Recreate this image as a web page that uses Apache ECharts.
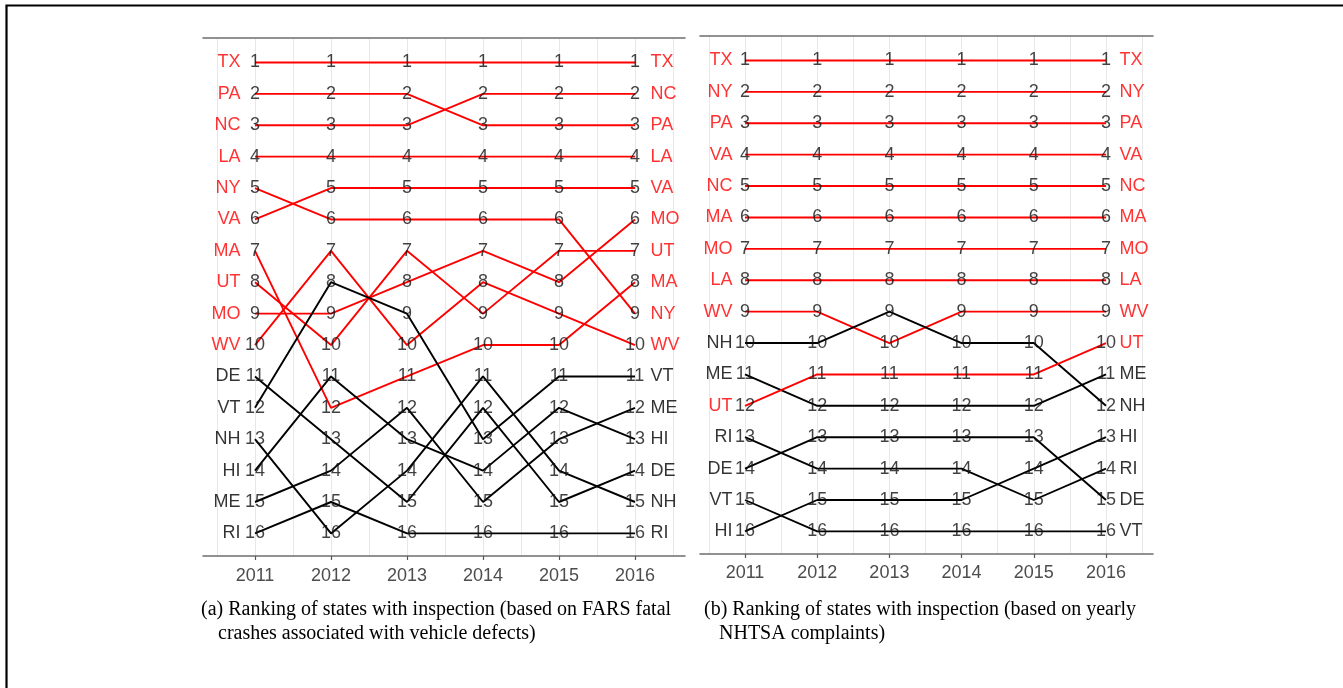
<!DOCTYPE html>
<html>
<head>
<meta charset="utf-8">
<script src="https://cdn.jsdelivr.net/npm/echarts@6/dist/echarts.min.js"></script>
<style>
  html, body { margin: 0; padding: 0; background: #ffffff; }
  #chart { width: 1343px; height: 688px; }
</style>
</head>
<body>
<div id="chart"></div>
<script>
// Years on the horizontal axis, and the positions of the vertical guide lines
const years = [2011, 2012, 2013, 2014, 2015, 2016];
const guideYears = [2010.5, 2011, 2011.5, 2012, 2012.5, 2013, 2013.5, 2014, 2014.5, 2015, 2015.5, 2016, 2016.5];

// States drawn in red
const highlighted = ['TX', 'PA', 'NC', 'LA', 'NY', 'VA', 'MA', 'UT', 'MO', 'WV'];

// (a) ranks by FARS fatal crashes associated with vehicle defects, 2011-2016
const statesA = ['TX', 'PA', 'NC', 'LA', 'NY', 'VA', 'MA', 'UT', 'MO', 'WV', 'DE', 'VT', 'NH', 'HI', 'ME', 'RI'];
const ranksA = [
  [1, 1, 1, 1, 1, 1],
  [2, 2, 2, 3, 3, 3],
  [3, 3, 3, 2, 2, 2],
  [4, 4, 4, 4, 4, 4],
  [5, 6, 6, 6, 6, 9],
  [6, 5, 5, 5, 5, 5],
  [7, 12, 11, 10, 10, 8],
  [8, 10, 7, 9, 7, 7],
  [9, 9, 8, 7, 8, 6],
  [10, 7, 10, 8, 9, 10],
  [11, 13, 15, 12, 15, 14],
  [12, 8, 9, 13, 11, 11],
  [13, 16, 14, 11, 14, 15],
  [14, 11, 13, 14, 12, 13],
  [15, 14, 12, 15, 13, 12],
  [16, 15, 16, 16, 16, 16]
];

// (b) ranks by yearly NHTSA complaints, 2011-2016
const statesB = ['TX', 'NY', 'PA', 'VA', 'NC', 'MA', 'MO', 'LA', 'WV', 'NH', 'ME', 'UT', 'RI', 'DE', 'VT', 'HI'];
const ranksB = [
  [1, 1, 1, 1, 1, 1],
  [2, 2, 2, 2, 2, 2],
  [3, 3, 3, 3, 3, 3],
  [4, 4, 4, 4, 4, 4],
  [5, 5, 5, 5, 5, 5],
  [6, 6, 6, 6, 6, 6],
  [7, 7, 7, 7, 7, 7],
  [8, 8, 8, 8, 8, 8],
  [9, 9, 10, 9, 9, 9],
  [10, 10, 9, 10, 10, 12],
  [11, 12, 12, 12, 12, 11],
  [12, 11, 11, 11, 11, 10],
  [13, 14, 14, 14, 15, 14],
  [14, 13, 13, 13, 13, 15],
  [15, 16, 16, 16, 16, 16],
  [16, 15, 15, 15, 14, 13]
];

const captionA = ['(a) Ranking of states with inspection (based on FARS fatal', 'crashes associated with vehicle defects)'];
const captionB = ['(b) Ranking of states with inspection (based on yearly', 'NHTSA complaints)'];

const RED = '#ff0000';
const INK = '#000000';
const SANS = "'Liberation Sans', Arial, Helvetica, sans-serif";
const SERIF = "'Liberation Serif', 'Times New Roman', serif";
const LABEL_SIZE = 18;

const panels = [
  { states: statesA, ranks: ranksA, grid: { left: 203, top: 38, width: 482, height: 518 },
    xMin: 2010.316, xMax: 2016.658, nameGap: [14, 15], labelMargin: 11 },
  { states: statesB, ranks: ranksB, grid: { left: 700, top: 36, width: 453, height: 518 },
    xMin: 2010.377, xMax: 2016.651, nameGap: [12, 13], labelMargin: 10 }
];

const colorOf = s => (highlighted.indexOf(s) >= 0 ? RED : INK);

const grid = [], xAxis = [], yAxis = [], series = [];

panels.forEach((p, i) => {
  grid.push(p.grid);
  // bottom axis: year ticks and labels
  xAxis.push({
    type: 'value', gridIndex: i, position: 'bottom', min: p.xMin, max: p.xMax,
    axisLine: { show: true, lineStyle: { color: '#6e6e6e', width: 1.6 } },
    axisTick: { show: true, length: 4, customValues: years, lineStyle: { color: '#555555', width: 1.2 } },
    axisLabel: { customValues: years, formatter: v => String(v), color: '#4d4d4d',
                 fontSize: LABEL_SIZE, fontFamily: SANS, margin: p.labelMargin },
    splitLine: { show: false }
  });
  // top axis: the upper rule plus the light vertical guide lines
  xAxis.push({
    type: 'value', gridIndex: i, position: 'top', min: p.xMin, max: p.xMax,
    axisLine: { show: true, lineStyle: { color: '#6e6e6e', width: 1.6 } },
    axisTick: { show: false, customValues: guideYears },
    axisLabel: { show: false },
    splitLine: { show: true, lineStyle: { color: '#e8e8e8', width: 1 } }
  });
  yAxis.push({ type: 'value', gridIndex: i, inverse: true, min: 0.22, max: 16.72, show: false });

  const xIdx = 2 * i;
  // one line per state
  p.states.forEach((s, k) => {
    series.push({
      type: 'line', name: s, xAxisIndex: xIdx, yAxisIndex: i,
      data: years.map((y, j) => [y, p.ranks[k][j]]),
      symbol: 'none', showSymbol: false, silent: true, z: 2,
      lineStyle: { color: colorOf(s), width: 1.9 }
    });
  });
  // rank numbers at every point
  const pts = [];
  p.states.forEach((s, k) => years.forEach((y, j) => pts.push([y, p.ranks[k][j]])));
  series.push({
    type: 'scatter', xAxisIndex: xIdx, yAxisIndex: i, data: pts, z: 6, silent: true,
    symbolSize: 1, itemStyle: { color: 'rgba(0,0,0,0)' },
    label: { show: true, position: 'inside', formatter: q => String(q.value[1]),
             color: '#111111', fontSize: LABEL_SIZE, fontFamily: SANS }
  });
  // state names at both ends
  [[0, 'left', p.nameGap[0]], [years.length - 1, 'right', p.nameGap[1]]].forEach(([j, side, gap]) => {
    series.push({
      type: 'scatter', xAxisIndex: xIdx, yAxisIndex: i, z: 6, silent: true,
      symbolSize: 1, itemStyle: { color: 'rgba(0,0,0,0)' },
      data: p.states.map((s, k) => ({ name: s, value: [years[j], p.ranks[k][j]],
                                       label: { color: colorOf(s) } })),
      label: { show: true, position: side, distance: gap, formatter: '{b}',
               fontSize: LABEL_SIZE, fontFamily: SANS }
    });
  });
});

const capStyle = { fontFamily: SERIF, fontSize: 20, fontWeight: 'normal', color: '#000000' };
const title = [
  { text: captionA[0], left: 201, top: 600, padding: 0, textStyle: capStyle },
  { text: captionA[1], left: 218, top: 624, padding: 0, textStyle: capStyle },
  { text: captionB[0], left: 704, top: 600, padding: 0, textStyle: capStyle },
  { text: captionB[1], left: 719, top: 624, padding: 0, textStyle: capStyle }
];

const chart = echarts.init(document.getElementById('chart'), null, { renderer: 'canvas' });
chart.setOption({
  backgroundColor: '#ffffff',
  animation: false,
  title: title,
  grid: grid,
  xAxis: xAxis,
  yAxis: yAxis,
  series: series,
  graphic: [{
    type: 'rect', silent: true, z: 100,
    shape: { x: 6.5, y: 5.5, width: 1500, height: 800 },
    style: { fill: 'none', stroke: '#000000', lineWidth: 2.2 }
  }]
});
</script>
</body>
</html>
